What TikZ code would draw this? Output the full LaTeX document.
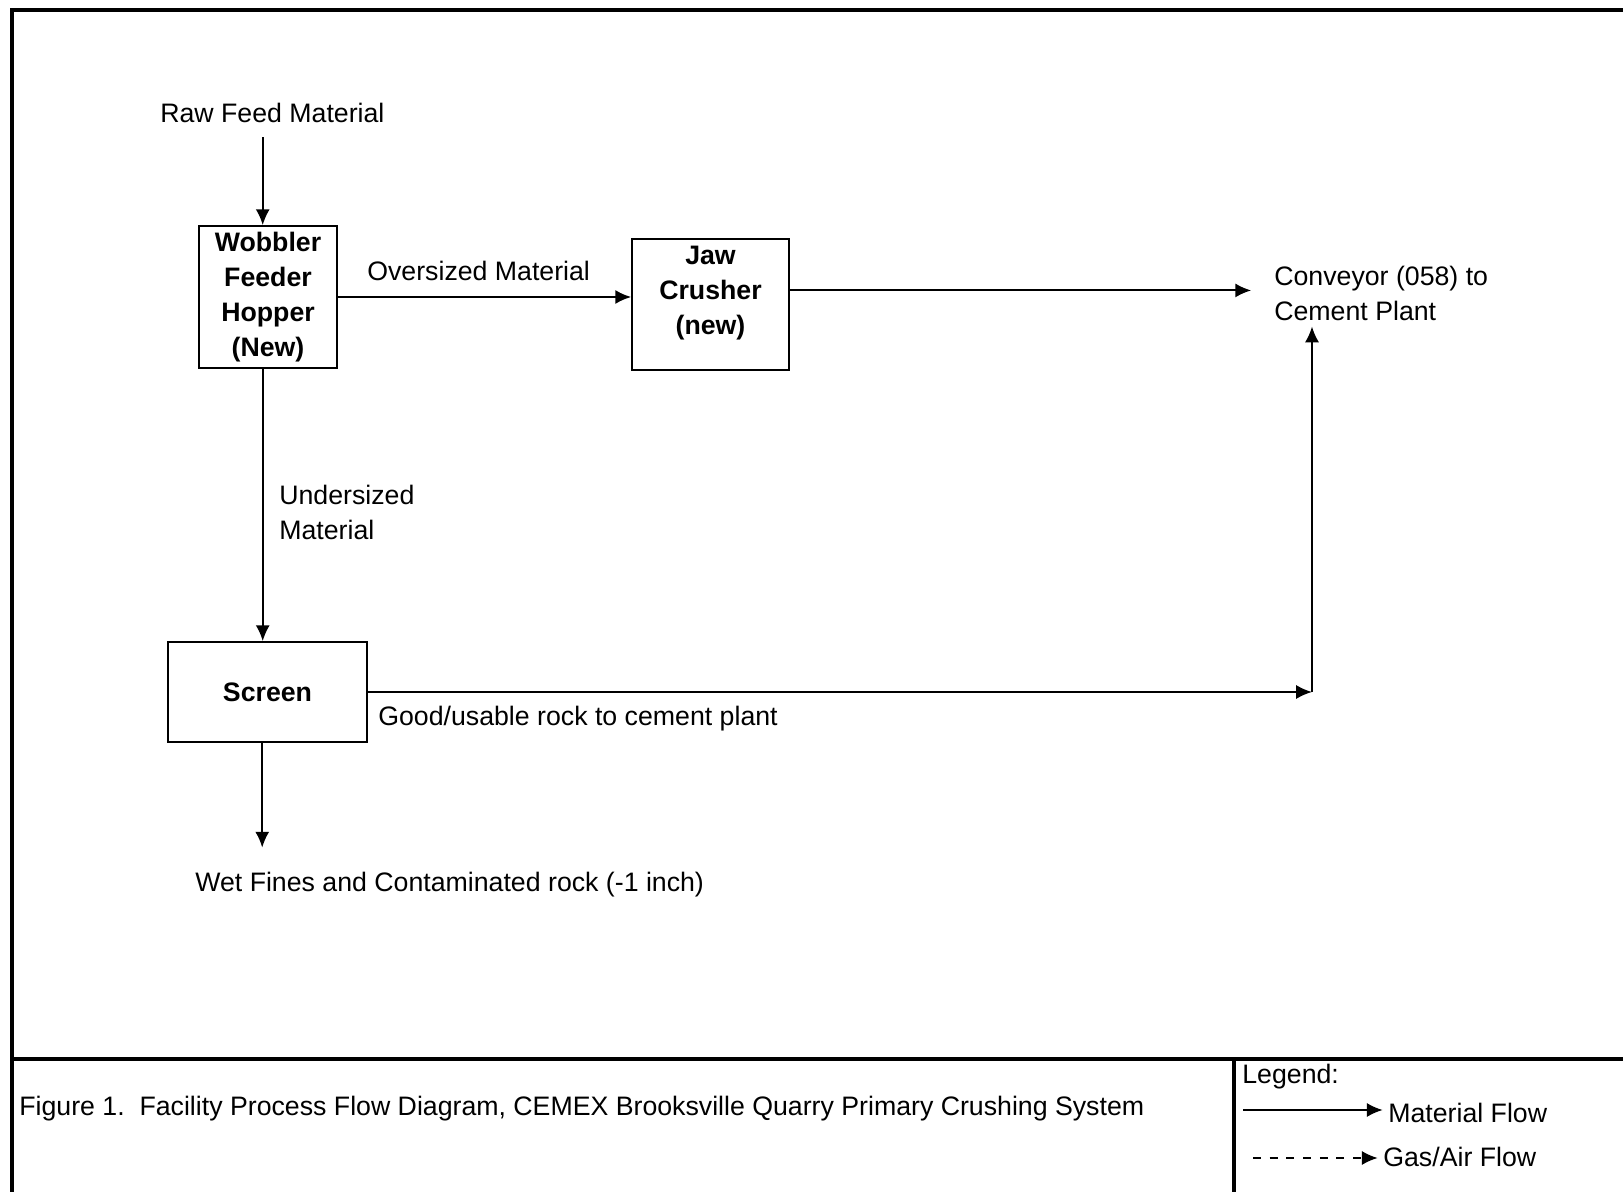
\documentclass[tikz,border=0pt]{standalone}
\usepackage{fontspec}
\setmainfont{Liberation Sans}
\usetikzlibrary{arrows.meta}

\begin{document}
\begin{tikzpicture}[x=0.02cm,y=-0.02cm,
  font=\fontsize{15.2}{20}\selectfont,
  box/.style={draw,line width=1pt,inner sep=0pt,align=center,font=\fontsize{15.2}{20}\selectfont\bfseries},
  txt/.style={inner sep=0pt,align=left,anchor=west},
  flow/.style={line width=1.1pt,-{Latex[length=9pt,width=8pt]}},
  gasflow/.style={flow,dash pattern=on 4.5pt off 5pt},
  frame/.style={line width=2.6pt}]
\useasboundingbox (0,0) rectangle (1623,1192);
% frame and footer
\draw[frame] (12,1192) -- (12,10) -- (1623,10);
\draw[frame] (12,1059) -- (1623,1059);
\draw[line width=2.2pt] (1234,1059) -- (1234,1192);
% process units
\node[box,minimum width=2.76cm,minimum height=2.84cm] (hopper) at (268,297) {Wobbler\\Feeder\\Hopper\\(New)};
\node[box,minimum width=3.14cm,minimum height=2.62cm] (jaw) at (710.5,304.5) {};
\node[font=\fontsize{15.2}{20}\selectfont\bfseries,align=center,inner sep=0pt] (jawtext) at (710.5,293) {Jaw\\Crusher\\(new)};
\node[box,minimum width=3.98cm,minimum height=2.0cm] (screen) at (267.5,692) {Screen};
% streams
\node[txt] (raw) at (160,113) {Raw Feed Material};
\node[txt] (conv) at (1274,293.5) {Conveyor (058) to\\Cement Plant};
\node[txt] (oversize) at (367,271) {Oversized Material};
\node[txt] (undersize) at (279,512.5) {Undersized\\Material};
\node[txt] (good) at (378,719) {Good/usable rock to cement plant};
\node[txt] (wet) at (195,885) {Wet Fines and Contaminated rock (-1 inch)};
\coordinate (corner) at (1312,692);
\draw[flow,shorten <=8pt] ([xshift=-3pt]raw.south -| hopper.north) -- ([xshift=-3pt]hopper.north);
\draw[flow] (hopper.east) -- (hopper.east -| jaw.west);
\draw[flow,shorten >=13pt] ([yshift=8pt]jaw.east) -- ([yshift=8pt]jaw.east -| conv.west);
\draw[flow] ([xshift=-3pt]hopper.south) -- ([xshift=-3pt]hopper.south |- screen.north);
\draw[flow] (screen.east) -- (corner);
\draw[flow,shorten >=3pt] (corner) -- (corner |- conv.south);
\draw[flow,shorten >=14pt] ([xshift=-3pt]screen.south) -- ([xshift=-3pt]screen.south |- wet.north);
% caption and legend
\node[txt] (caption) at (19,1109) {Figure 1.\ \ Facility Process Flow Diagram, CEMEX Brooksville Quarry Primary Crushing System};
\node[txt] (legend) at (1242,1077) {Legend:};
\node[txt] (matflow) at (1388,1113) {Material Flow};
\node[txt] (gasair) at (1383,1157) {Gas/Air Flow};
\coordinate (matstart) at (1243,1110);
\coordinate (gasstart) at (1253,1158);
\draw[flow,shorten >=3pt] (matstart) -- (matstart -| matflow.west);
\draw[gasflow,shorten >=3pt] (gasstart) -- (gasstart -| gasair.west);
\end{tikzpicture}
\end{document}
